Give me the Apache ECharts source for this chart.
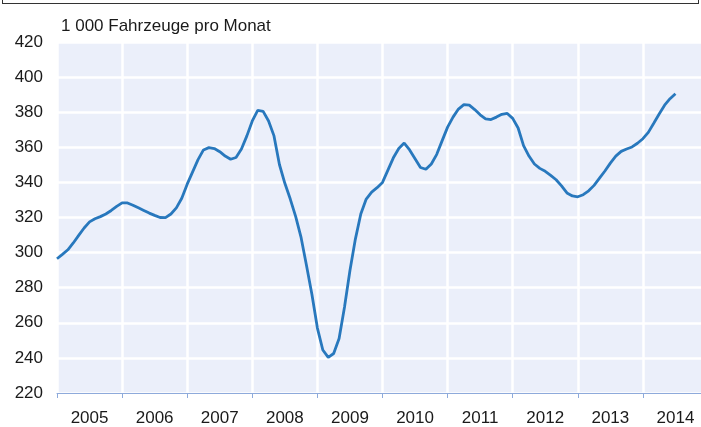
<!DOCTYPE html>
<html>
<head>
<meta charset="utf-8">
<script src="https://cdn.jsdelivr.net/npm/echarts@6/dist/echarts.min.js"></script>
<style>
  html, body { margin: 0; padding: 0; background: #fff; overflow: hidden; width: 701px; height: 427px; }
  #main { position: absolute; left: 0; top: 0; width: 708px; height: 427px; }
  #frame { position: absolute; left: 2px; top: -20px; width: 695px; height: 22px; border: 1.5px solid #333; z-index: 5; }
</style>
</head>
<body>
<div id="main"></div>
<div id="frame"></div>
<script>
// monthly values, Jan 2005 .. Jul 2014 (1 000 vehicles per month)
var years = ['2005','2006','2007','2008','2009','2010','2011','2012','2013','2014'];
var monthly = [
    296.5, 299, 301.6, 305.5, 309.8, 314, 317.5, 319.3, 320.5, 322, 324, 326.3,
    328.3, 328.3, 327, 325.5, 324, 322.5, 321.2, 320, 319.9, 322, 325.5, 331,
    339, 346, 353, 358.5, 359.8, 359.3, 357.5, 355, 353.2, 354.2, 359, 366.5,
    375, 381, 380.5, 375, 366.5, 350.2, 339.5, 330.5, 320.5, 308.5, 292.5, 276,
    257, 244.5, 240.3, 242.5, 251, 269, 289.8, 307.7, 322, 330.5, 334.5, 337,
    340, 347, 354, 359.3, 362.4, 358.5, 353.5, 348.5, 347.5, 350.5, 356, 363.8,
    371.5, 377.2, 381.8, 384.3, 384, 381.5, 378.5, 376.2, 375.8, 377.2, 378.8, 379.3,
    376.5, 371, 361, 355, 350.5, 348, 346.3, 344, 341.5, 338, 334, 332.3,
    331.8, 333, 335.2, 338.3, 342.4, 346.5, 351, 355, 357.7, 359, 360.2, 362.3,
    364.9, 368.5, 373.7, 379, 384, 387.7, 390.5
];
var yTicks = { min: 220, max: 420, step: 20 };
var unitLabel = '1 000 Fahrzeuge pro Monat';

var seriesData = [];
for (var i = 0; i < monthly.length; i++) {
    seriesData.push([i, monthly[i]]);
}

var font = 'Liberation Sans, Arial, sans-serif';
var myChart = echarts.init(document.getElementById('main'));
var option = {
    animation: false,
    title: {
        text: unitLabel,
        left: 56,
        top: 13,
        textStyle: { fontFamily: font, fontSize: 17, fontWeight: 'normal', color: '#1a1a1a' }
    },
    grid: {
        left: 57, right: 0, top: 42, bottom: 31,
        show: true, backgroundColor: '#ebeffa', borderWidth: 0
    },
    xAxis: [{
        type: 'value',
        min: 0, max: 120, interval: 12,
        axisLine: { show: true, lineStyle: { color: '#8eaadb', width: 1 } },
        axisTick: { show: true, length: 5, lineStyle: { color: '#8eaadb' } },
        axisLabel: { show: false },
        splitLine: { show: true, lineStyle: { color: '#ffffff', width: 2.5 } }
    }, {
        type: 'category',
        position: 'bottom',
        data: years,
        boundaryGap: true,
        axisLine: { show: false },
        axisTick: { show: false },
        axisLabel: { margin: 17, fontFamily: font, fontSize: 17, color: '#1a1a1a' },
        splitLine: { show: false }
    }],
    yAxis: {
        type: 'value',
        min: yTicks.min, max: yTicks.max, interval: yTicks.step,
        axisLine: { show: false },
        axisTick: { show: false },
        axisLabel: { margin: 14, fontFamily: font, fontSize: 17, color: '#1a1a1a' },
        splitLine: { show: true, lineStyle: { color: '#ffffff', width: 2.5 } }
    },
    series: [{
        type: 'line',
        xAxisIndex: 0,
        data: seriesData,
        showSymbol: false,
        smooth: false,
        lineStyle: { color: '#2878bd', width: 2.8 }
    }]
};
myChart.setOption(option);
</script>
</body>
</html>
